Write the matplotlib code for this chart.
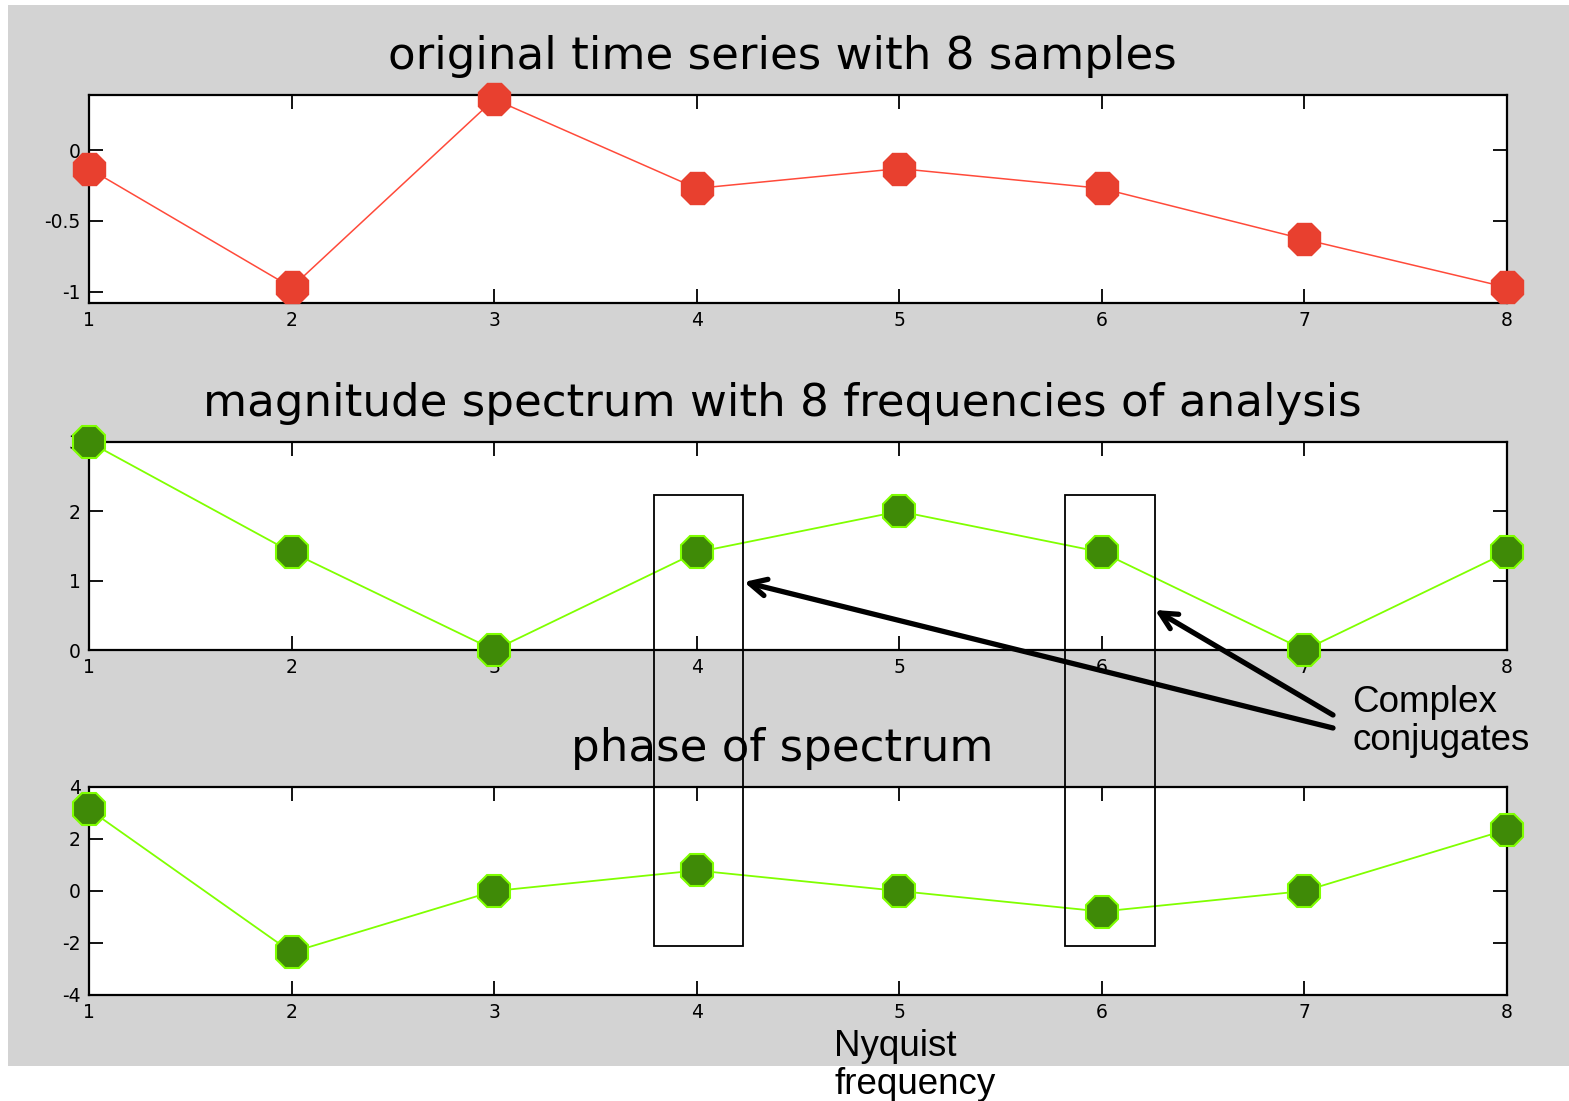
import matplotlib.pyplot as plt
from matplotlib.patches import Rectangle, FancyArrowPatch
from matplotlib.transforms import blended_transform_factory

plt.rcParams["font.family"] = ["DejaVu Sans"]

# data
n = [1, 2, 3, 4, 5, 6, 7, 8]
signal = [-0.13, -0.97, 0.36, -0.27, -0.13, -0.27, -0.63, -0.97]
magnitude = [3.0, 1.41, 0.0, 1.41, 2.0, 1.41, 0.0, 1.41]
phase = [3.14, -2.36, 0.0, 0.79, 0.0, -0.79, 0.0, 2.36]

titles = [
    "original time series with 8 samples",
    "magnitude spectrum with 8 frequencies of analysis",
    "phase of spectrum",
]
yticks = [[-1, -0.5, 0], [0, 1, 2, 3], [-4, -2, 0, 2, 4]]
yticklabels = [["-1", "-0.5", "0"], ["0", "1", "2", "3"], ["-4", "-2", "0", "2", "4"]]
ylims = [(-1.08, 0.39), (0, 3), (-4, 4)]
box_lefts = [3.79, 5.82]  # boxes around bins 4 and 6

W, H = 1569, 1101
fig = plt.figure(figsize=(W / 100, H / 100), dpi=100, facecolor="white")

# grey matlab-style window background
fig.add_artist(
    Rectangle((8 / W, 1 - 1066 / H), 1 - 8 / W, (1066 - 5) / H,
              transform=fig.transFigure, facecolor="#d3d3d3",
              edgecolor="none", zorder=-10)
)

left, width, height = 89 / W, (1507 - 89) / W, 208 / H
tops = [95, 442, 787]
axes = [fig.add_axes([left, 1 - (t + 208) / H, width, height]) for t in tops]

series = [signal, magnitude, phase]
for i, ax in enumerate(axes):
    if i == 0:
        ax.plot(n, series[i], color="#ff4a3a", lw=1.1, marker="8", ms=25.5,
                mfc="#e8402f", mec="#e8402f", clip_on=False, zorder=3)
    else:
        ax.plot(n, series[i], color="#80ff00", lw=1.3, marker="8", ms=24.5,
                mfc="#3f8a07", mec="#7fff00", mew=1.5, clip_on=False, zorder=3)
    ax.set_xlim(1, 8)
    ax.set_ylim(*ylims[i])
    ax.set_xticks(n)
    ax.set_xticklabels([str(v) for v in n])
    ax.set_yticks(yticks[i])
    ax.set_yticklabels(yticklabels[i])
    ax.tick_params(direction="in", length=10, width=1.3, top=True, right=True,
                   labelsize=13.5, pad=6)
    for sp in ax.spines.values():
        sp.set_linewidth(1.6)
    ax.set_title(titles[i], fontsize=32.5, pad=19, x=0.489)

# boxes around the complex conjugate pair
box_tr = blended_transform_factory(axes[1].transData, fig.transFigure)
for bx in box_lefts:
    fig.add_artist(
        Rectangle((bx, 1 - 946 / H), 0.44, (946 - 495) / H,
                  transform=box_tr, fill=False, edgecolor="black", lw=1.3,
                  zorder=5)
    )

# arrows from the label to the boxes
tips = [(744, 582), (1155, 610)]
tails = [(1333, 728), (1333, 715)]
for (tx, ty), (sx, sy) in zip(tips, tails):
    fig.add_artist(
        FancyArrowPatch((sx / W, 1 - sy / H), (tx / W, 1 - ty / H),
                        transform=fig.transFigure, arrowstyle="->,head_length=12,head_width=6",
                        color="black", lw=3.8, shrinkA=0, shrinkB=0, zorder=6)
    )

# va="baseline" on multi-line text aligns the last line
fig.text(1352 / W, 1 - 750 / H, "Complex\nconjugates", fontsize=26.5,
         family=["Liberation Sans", "DejaVu Sans"], va="baseline",
         linespacing=1.12)
fig.text(834 / W, 1 - 1094 / H, "Nyquist\nfrequency", fontsize=26.5,
         family=["Liberation Sans", "DejaVu Sans"], va="baseline",
         linespacing=1.1)

fig.savefig("out.png", dpi=100, facecolor="white")
